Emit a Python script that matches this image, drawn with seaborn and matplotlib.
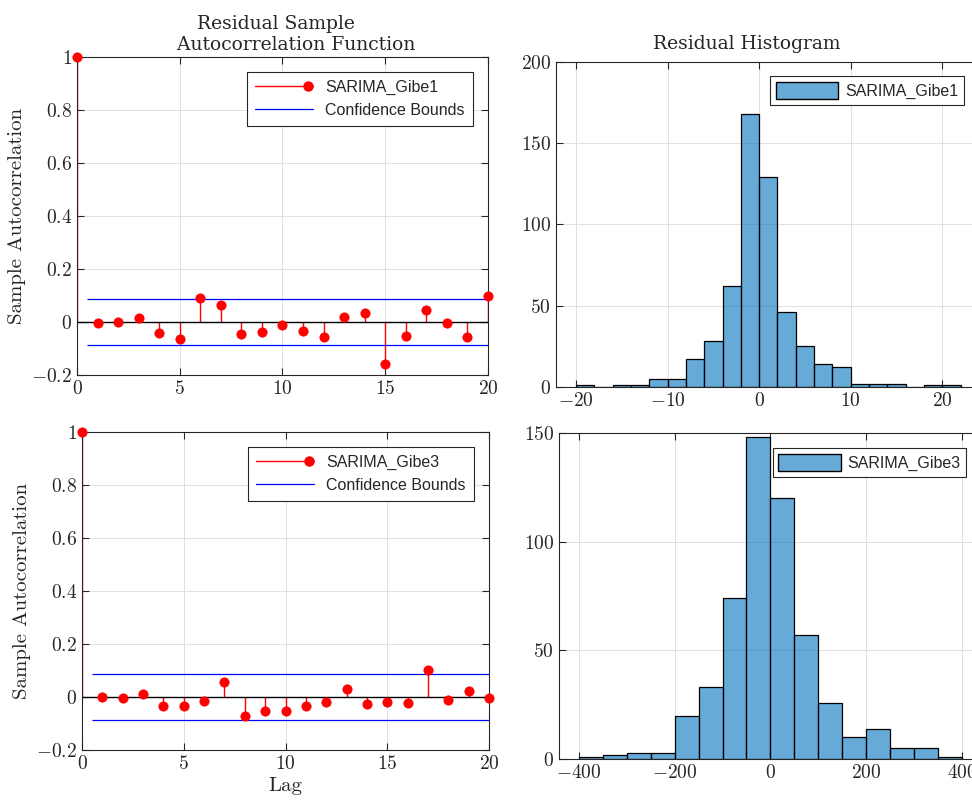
import numpy as np
import matplotlib.pyplot as plt
import seaborn as sns
from matplotlib.lines import Line2D
from matplotlib.patches import Patch
from matplotlib.legend_handler import HandlerLine2D
from matplotlib.ticker import FuncFormatter

# ACF values
lags = list(range(21))
acf_gibe1 = [1.0, -0.003, 0.001, 0.015, -0.043, -0.064, 0.089, 0.063, -0.044, -0.036, -0.010,
             -0.033, -0.057, 0.020, 0.034, -0.158, -0.052, 0.044, -0.003, -0.057, 0.098]
acf_gibe3 = [1.0, 0.000, -0.004, 0.010, -0.033, -0.034, -0.015, 0.057, -0.073, -0.053, -0.054,
             -0.035, -0.020, 0.031, -0.025, -0.019, -0.024, 0.103, -0.013, 0.021, -0.005]
bound_gibe1 = 0.088
bound_gibe3 = 0.087

# histogram bins and counts
edges_gibe1 = list(range(-20, 24, 2))
counts_gibe1 = [1, 0, 1, 1, 5, 5, 17, 28, 62, 168, 129, 46, 25, 14, 12, 2, 2, 2, 0, 1, 1]
edges_gibe3 = list(range(-400, 450, 50))
counts_gibe3 = [1, 2, 3, 3, 20, 33, 74, 148, 120, 57, 26, 10, 14, 5, 5, 1]

sns.set_style('ticks')
plt.rcParams['font.family'] = ['DejaVu Serif']
plt.rcParams['mathtext.fontset'] = 'cm'

blue_face = (0, 0.447, 0.741, 0.6)
mfmt = FuncFormatter(lambda v, p: '$%g$' % v)
legend_font = {'family': 'Liberation Sans', 'size': 11.5}


class EndMarker(HandlerLine2D):
    # matlab style stem legend: marker at the right end of the line
    def create_artists(self, legend, orig_handle, xdescent, ydescent, width, height, fontsize, trans):
        y = (height - ydescent) / 2
        line = Line2D([-xdescent, -xdescent + width], [y, y], color='red', lw=1)
        dot = Line2D([-xdescent + 0.92 * width], [y], marker='o', color='red',
                     markersize=6.5, linestyle='none')
        line.set_transform(trans)
        dot.set_transform(trans)
        return [line, dot]


def style_axes(ax):
    ax.grid(True, color='0.88', lw=0.7)
    ax.set_axisbelow(True)
    ax.tick_params(direction='in', top=True, right=True, length=5, width=0.8,
                   labelsize=14, color='0.15')
    for s in ax.spines.values():
        s.set_color('0.15')
        s.set_linewidth(0.8)
    ax.xaxis.set_major_formatter(mfmt)
    ax.yaxis.set_major_formatter(mfmt)


def acf_panel(ax, acf, bound, name, anchor):
    ax.vlines(lags, 0, acf, color='red', lw=1, zorder=2)
    sns.scatterplot(x=lags, y=acf, color='red', edgecolor='red', s=45, ax=ax,
                    clip_on=False, zorder=4)
    ax.axhline(0, color='black', lw=1, zorder=3)
    ax.hlines([bound, -bound], lags[1] - 0.5, lags[-1], color='blue', lw=0.9, zorder=3)
    ax.set_xlim(0, 20)
    ax.set_ylim(-0.2, 1)
    ax.set_xticks([0, 5, 10, 15, 20])
    ax.set_yticks([-0.2, 0, 0.2, 0.4, 0.6, 0.8, 1])
    style_axes(ax)
    ax.set_ylabel('Sample Autocorrelation', family='cmr10', fontsize=15)
    stem_h = Line2D([], [], color='red', marker='o', label=name)
    conf_h = Line2D([], [], color='blue', lw=0.9, label='Confidence Bounds')
    leg = ax.legend(handles=[stem_h, conf_h], handler_map={stem_h: EndMarker()},
                    loc='upper right', bbox_to_anchor=anchor, borderaxespad=0,
                    prop=legend_font, fancybox=False, edgecolor='0.15', framealpha=1,
                    handlelength=3.6, handletextpad=0.8, borderpad=0.5, labelspacing=0.5)
    leg.get_frame().set_linewidth(0.8)


def hist_panel(ax, edges, counts, name, anchor):
    centers = [(a + b) / 2 for a, b in zip(edges[:-1], edges[1:])]
    sns.histplot(x=centers, weights=counts, bins=edges, ax=ax, color='#0072BD',
                 alpha=0.6, edgecolor='black', linewidth=0.9)
    ax.set_ylabel('')
    style_axes(ax)
    h = Patch(facecolor=blue_face, edgecolor='black', label=name)
    leg = ax.legend(handles=[h], loc='upper right', bbox_to_anchor=anchor, borderaxespad=0,
                    prop=legend_font, fancybox=False, edgecolor='0.15', framealpha=1,
                    handlelength=3.9, handleheight=1.3, handletextpad=0.45, borderpad=0.35)
    leg.get_frame().set_linewidth(0.8)


fig = plt.figure(figsize=(9.72, 8.01), dpi=100)

ax1 = fig.add_axes([0.0792, 0.5318, 0.4228, 0.397])
acf_panel(ax1, acf_gibe1, bound_gibe1, 'SARIMA_Gibe1', (0.9635, 0.953))
ax1.set_title('Residual Sample\n       Autocorrelation Function', fontsize=13.5, pad=5,
              x=0.483, family='DejaVu Serif')

ax2 = fig.add_axes([0.572, 0.5169, 0.435, 0.4057])
hist_panel(ax2, edges_gibe1, counts_gibe1, 'SARIMA_Gibe1', (0.965, 0.957))
ax2.set_xlim(-22.2, 24)
ax2.set_ylim(0, 200)
ax2.set_xticks([-20, -10, 0, 10, 20])
ax2.set_yticks([0, 50, 100, 150, 200])
ax2.set_title('Residual Histogram', fontsize=13.5, pad=9, x=0.452, family='DejaVu Serif')

ax3 = fig.add_axes([0.0844, 0.0637, 0.4187, 0.397])
acf_panel(ax3, acf_gibe3, bound_gibe3, 'SARIMA_Gibe3', (0.963, 0.953))
ax3.set_xlabel('Lag', family='cmr10', fontsize=15, labelpad=3)

ax4 = fig.add_axes([0.575, 0.0524, 0.44, 0.407])
hist_panel(ax4, edges_gibe3, counts_gibe3, 'SARIMA_Gibe3', (0.953, 0.954))
ax4.set_xlim(-442, 452)
ax4.set_ylim(0, 150)
ax4.set_xticks([-400, -200, 0, 200, 400])
ax4.set_yticks([0, 50, 100, 150])

fig.savefig('out.png', dpi=100)
